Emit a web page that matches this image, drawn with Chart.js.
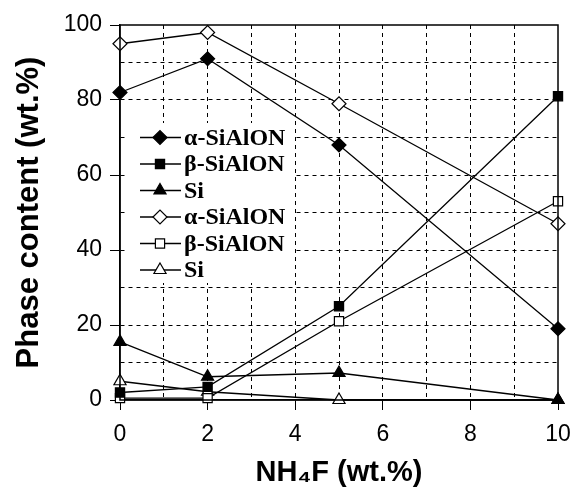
<!DOCTYPE html>
<html><head><meta charset="utf-8">
<script src="https://cdn.jsdelivr.net/npm/chart.js@4"></script>
<style>html,body{margin:0;padding:0;background:#fff}#wrap{width:575px;height:492px}</style>
</head><body><div id="wrap"><canvas id="c" width="575" height="492"></canvas></div>
<script>
const xValues = [0, 2, 5, 10];
const alphaFilled = [82, 91, 68, 19];
const betaFilled = [2, 3.5, 25, 81];
const siFilled = [15.5, 6.2, 7.2, 0];
const alphaOpen = [95, 98, 79, 47];
const betaOpen = [0.5, 0.5, 21, 53];
const siOpen = [5, 2.2, 0, 0];
const seriesLabels = ['α-SiAlON', 'β-SiAlON', 'Si', 'α-SiAlON', 'β-SiAlON', 'Si'];
const xTicks = [0, 2, 4, 6, 8, 10];
const yTicks = [0, 20, 40, 60, 80, 100];

const styles = [
  {pointStyle:'rectRot', radius:7, fill:'#000'},
  {pointStyle:'rect', radius:6.5, fill:'#000'},
  {pointStyle:'triangle', radius:7, fill:'#000'},
  {pointStyle:'rectRot', radius:7, fill:'#fff'},
  {pointStyle:'rect', radius:6.5, fill:'#fff'},
  {pointStyle:'triangle', radius:7, fill:'#fff'}
];
const allSeries = [alphaFilled, betaFilled, siFilled, alphaOpen, betaOpen, siOpen];

const datasets = allSeries.map((vals, i) => ({
  label: seriesLabels[i],
  data: xValues.map((x, j) => ({x: x, y: vals[j]})),
  borderColor: '#000',
  borderWidth: 1.3,
  pointStyle: styles[i].pointStyle,
  pointRadius: styles[i].radius,
  pointBackgroundColor: styles[i].fill,
  pointBorderColor: '#000',
  pointBorderWidth: 1.2,
  tension: 0,
  fill: false,
  clip: false
}));

const frame = {
  id: 'frame',
  afterDatasetsDraw(chart) {
    const {ctx, chartArea: a} = chart;
    ctx.save();
    ctx.strokeStyle = '#000';
    ctx.lineWidth = 1.5;
    ctx.strokeRect(a.left, a.top, a.right - a.left, a.bottom - a.top);
    // legend
    const bx = 125, by = 123, bw = 168, bh = 160;
    ctx.fillStyle = '#fff';
    ctx.fillRect(bx, by, bw, bh);
    ctx.font = 'bold 24px "Liberation Serif", "Times New Roman", serif';
    ctx.textBaseline = 'middle';
    for (let i = 0; i < 6; i++) {
      const yy = 137.5 + i * 26.5;
      ctx.strokeStyle = '#000';
      ctx.lineWidth = 1.3;
      ctx.beginPath(); ctx.moveTo(140, yy); ctx.lineTo(181, yy); ctx.stroke();
      ctx.fillStyle = styles[i].fill;
      ctx.lineWidth = 1.2;
      Chart.helpers.drawPoint(ctx, {pointStyle: styles[i].pointStyle, radius: styles[i].radius, rotation: 0, borderWidth: 1.2}, 160, yy);
      ctx.fillStyle = '#000';
      ctx.fillText(seriesLabels[i], 184, yy + 1);
    }
    ctx.restore();
  }
};

const tickFont = {family: '"Liberation Sans", Arial, sans-serif', size: 23};

new Chart(document.getElementById('c'), {
  type: 'line',
  data: {datasets},
  plugins: [frame],
  options: {
    responsive: false,
    animation: false,
    layout: {padding: {top: 25, right: 17, left: 0, bottom: 0}},
    plugins: {legend: {display: false}, tooltip: {enabled: false}},
    scales: {
      x: {
        type: 'linear', min: 0, max: 10,
        ticks: {stepSize: 1, autoSkip: false, color: '#000', padding: 11, font: tickFont,
          callback: v => xTicks.includes(v) ? String(v) : ''},
        grid: {color: ctx => (ctx.tick && (ctx.tick.value === 0 || ctx.tick.value === 10)) ? 'rgba(0,0,0,0)' : '#000',
          lineWidth: 1, tickLength: 10,
          tickColor: ctx => (ctx.tick && xTicks.includes(ctx.tick.value)) ? '#000' : 'rgba(0,0,0,0)',
          tickBorderDash: []},
        border: {display: true, color: '#000', width: 1.5, dash: [4, 4]},
        title: {display: true, text: 'NH₄F (wt.%)', color: '#000', padding: {top: 0, bottom: 2},
          font: {family: '"Liberation Sans", Arial, sans-serif', size: 29, weight: 'bold'}},
        afterFit: s => { s.height = 92; s.paddingRight = 0; s.paddingLeft = 0; }
      },
      y: {
        min: 0, max: 100,
        ticks: {stepSize: 10, autoSkip: false, color: '#000', padding: 8, font: tickFont,
          callback: v => yTicks.includes(v) ? String(v) : ''},
        grid: {color: ctx => (ctx.tick && (ctx.tick.value === 0 || ctx.tick.value === 100)) ? 'rgba(0,0,0,0)' : '#000',
          lineWidth: 1, tickLength: 10,
          tickColor: ctx => (ctx.tick && yTicks.includes(ctx.tick.value)) ? '#000' : 'rgba(0,0,0,0)',
          tickBorderDash: []},
        border: {display: true, color: '#000', width: 1.5, dash: [4, 4]},
        title: {display: true, text: 'Phase content (wt.%)', color: '#000', padding: {top: 11, bottom: 0},
          font: {family: '"Liberation Sans", Arial, sans-serif', size: 31, weight: 'bold'}},
        afterFit: s => { s.width = 120; s.paddingTop = 0; s.paddingBottom = 0; }
      }
    }
  }
});
</script></body></html>
